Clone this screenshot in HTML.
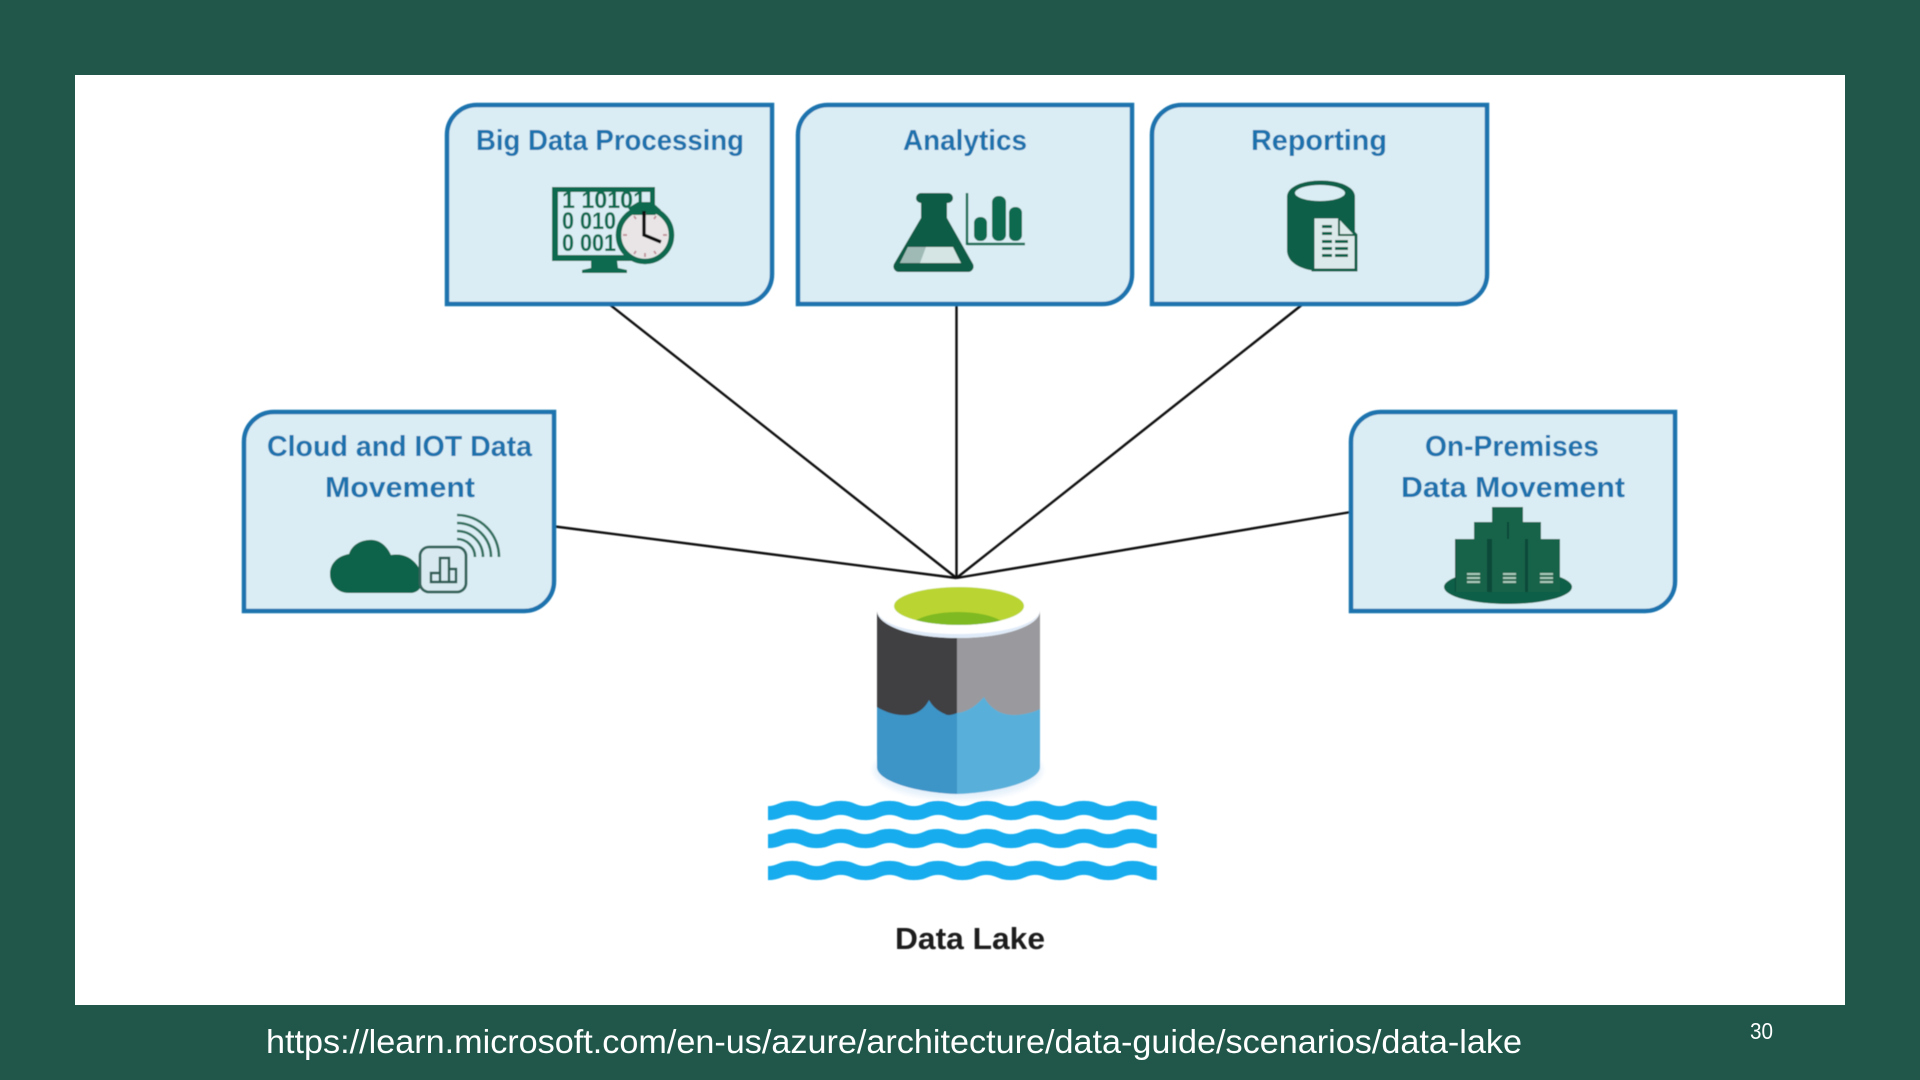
<!DOCTYPE html>
<html lang="en">
<head>
<meta charset="utf-8">
<title>Data Lake</title>
<style>
html,body{margin:0;padding:0;width:1920px;height:1080px;overflow:hidden;background:#20574a}
svg{display:block}
text{font-family:"Liberation Sans",sans-serif}
.t{font-weight:bold;font-size:29px;fill:#1f72ad}
</style>
</head>
<body>
<svg width="1920" height="1080" viewBox="0 0 1920 1080" xmlns="http://www.w3.org/2000/svg">
<defs>
<path id="wave" fill="none" stroke="#14acee" stroke-width="14" d="M0 2.6c12 0 12-5.2 24.3-5.2s12 5.2 24.3 5.2s12-5.2 24.3-5.2s12 5.2 24.3 5.2s12-5.2 24.3-5.2s12 5.2 24.3 5.2s12-5.2 24.3-5.2s12 5.2 24.3 5.2s12-5.2 24.3-5.2s12 5.2 24.3 5.2s12-5.2 24.3-5.2s12 5.2 24.3 5.2s12-5.2 24.3-5.2s12 5.2 24.3 5.2s12-5.2 24.3-5.2s12 5.2 24.3 5.2"/>
<filter id="soft" x="-5%" y="-5%" width="110%" height="110%"><feGaussianBlur stdDeviation="0.5"/></filter>
<filter id="glow" x="-20%" y="-20%" width="140%" height="140%"><feGaussianBlur stdDeviation="3"/></filter>
<clipPath id="greenClip"><ellipse cx="959" cy="606" rx="65" ry="19"/></clipPath>
</defs>

<rect x="0" y="0" width="1920" height="1080" fill="#20574a"/>
<rect x="75" y="75" width="1770" height="930" fill="#fff"/>

<g filter="url(#soft)">
<!-- connectors -->
<g stroke="#111" stroke-width="2.4" fill="none">
<line x1="609" y1="304" x2="956.5" y2="578"/>
<line x1="956.5" y1="304" x2="956.5" y2="578"/>
<line x1="1303" y1="304" x2="956.5" y2="578"/>
<line x1="555" y1="526.5" x2="956.5" y2="578"/>
<line x1="1351" y1="512" x2="956.5" y2="578"/>
</g>

<!-- boxes -->
<g fill="#daedf4" stroke="#1a73ae" stroke-width="4.5">
<path d="M478 105H772V274a30 30 0 0 1-30 30H447V135a30 30 0 0 1 31-30Z"/>
<path d="M829 105H1132V274a30 30 0 0 1-30 30H798V135a30 30 0 0 1 31-30Z"/>
<path d="M1183 105H1487V274a30 30 0 0 1-30 30H1152V135a30 30 0 0 1 31-30Z"/>
<path d="M275 412H554V581a30 30 0 0 1-30 30H244V442a30 30 0 0 1 31-30Z"/>
<path d="M1382 412H1675V581a30 30 0 0 1-30 30H1351V442a30 30 0 0 1 31-30Z"/>
</g>

<!-- box labels -->
<text class="t" x="476" y="150" textLength="268" lengthAdjust="spacingAndGlyphs">Big Data Processing</text>
<text class="t" x="903" y="150" textLength="124" lengthAdjust="spacingAndGlyphs">Analytics</text>
<text class="t" x="1251" y="150" textLength="136" lengthAdjust="spacingAndGlyphs">Reporting</text>
<text class="t" x="267" y="456" textLength="265" lengthAdjust="spacingAndGlyphs">Cloud and IOT Data</text>
<text class="t" x="325" y="497" textLength="150" lengthAdjust="spacingAndGlyphs">Movement</text>
<text class="t" x="1425" y="456" textLength="174" lengthAdjust="spacingAndGlyphs">On-Premises</text>
<text class="t" x="1401" y="497" textLength="224" lengthAdjust="spacingAndGlyphs">Data Movement</text>

<!-- monitor + clock -->
<rect x="552" y="187" width="103" height="74" fill="#0f6b50"/>
<rect x="558" y="192" width="92" height="63" fill="#daedf4"/>
<path d="M591 260h26l1 8 9 2v3h-45v-3l9-2Z" fill="#0f6b50"/>
<g fill="#0f6b50" font-weight="bold" font-size="24">
<text x="562" y="208" textLength="84" lengthAdjust="spacingAndGlyphs">1 10101</text>
<text x="562" y="229" textLength="54" lengthAdjust="spacingAndGlyphs">0 010</text>
<text x="562" y="251" textLength="54" lengthAdjust="spacingAndGlyphs">0 001</text>
</g>
<circle cx="645" cy="235" r="26.5" fill="#e9e5e6" stroke="#0f6b50" stroke-width="5.5"/>
<path d="M628 208l10-6 14 0 9 8-6 5-22 0Z" fill="#0f6b50"/>
<g stroke="#c09098" stroke-width="1.8">
<line x1="645" y1="213" x2="645" y2="217"/><line x1="645" y1="253" x2="645" y2="257"/>
<line x1="623" y1="235" x2="627" y2="235"/><line x1="663" y1="235" x2="667" y2="235"/>
<line x1="634" y1="216" x2="636" y2="219"/><line x1="656" y1="216" x2="654" y2="219"/>
<line x1="634" y1="254" x2="636" y2="251"/><line x1="656" y1="254" x2="654" y2="251"/>
</g>
<path d="M644 211V235L661 242" fill="none" stroke="#111" stroke-width="3.4"/>

<!-- flask -->
<path d="M921 193h27a4.5 4.5 0 0 1 0 10h-1v15l26 46a5.500 5.500 0 0 1-5 8H899a5.500 5.500 0 0 1-5-8l27-46V203a4.500 4.500 0 0 1 0-10Z" fill="#0f5c45"/>
<path d="M908 247H953L961 263H900Z" fill="#d4e5e3"/>
<path d="M908 247H926L920 263H900Z" fill="#9fbab5"/>
<path d="M967 193V245M967 244H1025" stroke="#0f6b50" stroke-width="2.4" fill="none"/>
<g fill="#0f6b50">
<rect x="974" y="217" width="13" height="24" rx="6"/>
<rect x="992" y="196" width="14" height="45" rx="6.5"/>
<rect x="1009" y="207" width="13" height="34" rx="6"/>
</g>

<!-- reporting cylinder + doc -->
<path d="M1287 197c0-22 68-22 68 0V250c0 28-68 28-68 0Z" fill="#0f5f47"/>
<ellipse cx="1320" cy="193" rx="25" ry="8" fill="#daedf4"/>
<path d="M1313 217H1339L1356 235V270H1313Z" fill="#dce9ea" stroke="#0f5f47" stroke-width="3"/>
<path d="M1339 217V235H1356" fill="none" stroke="#0f5f47" stroke-width="2"/>
<g fill="#0f5f47">
<rect x="1322" y="225" width="10" height="3"/><rect x="1322" y="232" width="10" height="3"/>
<rect x="1322" y="240" width="10" height="3"/><rect x="1322" y="247" width="10" height="3"/><rect x="1322" y="254" width="10" height="3"/>
<rect x="1335" y="240" width="13" height="3"/><rect x="1335" y="247" width="13" height="3"/><rect x="1335" y="254" width="13" height="3"/>
</g>

<!-- cloud + sensor + arcs -->
<path d="M349 593c-12 0-19-9-19-19 0-11 8-18 19-20 3-10 14-15 24-14 9 1 15 8 18 15 11-2 20 2 26 10 4 5 5 12 5 18-1 6-5 10-12 10Z" fill="#0e6348"/>
<rect x="420" y="547" width="46" height="45" rx="9" fill="#d8eaf0" stroke="#33635a" stroke-width="2.8"/>
<path d="M431 582V573H440V582ZM440 582V558H449V582ZM449 582V569H456V582Z" fill="none" stroke="#2a5a51" stroke-width="2.4"/>
<g fill="none" stroke="#33705f" stroke-width="2.6">
<path d="M457 515a42 42 0 0 1 42 42"/>
<path d="M457 523a34 34 0 0 1 34 34"/>
<path d="M457 531a26 26 0 0 1 26 26"/>
<path d="M457 539a18 18 0 0 1 18 18"/>
</g>

<!-- servers -->
<ellipse cx="1508" cy="587" rx="64" ry="17" fill="#0f5f47"/>
<rect x="1474" y="522" width="67" height="17" fill="#0b4a37"/>
<rect x="1455" y="539" width="105" height="53" fill="#0b4a37"/>
<g fill="#14634a">
<rect x="1492" y="507" width="31" height="15"/>
<rect x="1474" y="522" width="33" height="17"/>
<rect x="1509" y="522" width="32" height="17"/>
<rect x="1456" y="539" width="31" height="53"/>
<rect x="1492" y="539" width="33" height="53"/>
<rect x="1528" y="539" width="32" height="53"/>
</g>
<g fill="#a9c9bb">
<rect x="1467" y="573" width="13" height="2"/><rect x="1467" y="577" width="13" height="2"/><rect x="1467" y="581" width="13" height="2"/>
<rect x="1503" y="573" width="13" height="2"/><rect x="1503" y="577" width="13" height="2"/><rect x="1503" y="581" width="13" height="2"/>
<rect x="1540" y="573" width="13" height="2"/><rect x="1540" y="577" width="13" height="2"/><rect x="1540" y="581" width="13" height="2"/>
</g>

<!-- data lake cylinder -->
<ellipse cx="958" cy="770" rx="84" ry="29" fill="#e4f0fb" filter="url(#glow)"/>
<path d="M877 611H957V794C920 793 877 782 877 767Z" fill="#3d94c6"/>
<path d="M1040 611H957V794C994 793 1040 782 1040 767Z" fill="#59b0da"/>
<path d="M877 611H957V713C952 715 948 716 945 714C938 711 933 707 929 700C925 708 918 714 908 715C896 716 885 712 877 707Z" fill="#404042"/>
<path d="M1040 611H957V713C966 712 974 708 984 697C990 708 1000 715 1014 715C1024 715 1034 712 1040 709Z" fill="#9a9a9e"/>
<ellipse cx="958.500" cy="611" rx="81.500" ry="27" fill="#fff"/>
<path d="M877 611C880 628 915 638 958 638S1037 628 1040 611C1037 624 1005 634 958 634S880 624 877 611Z" fill="#dfeaf8"/>
<ellipse cx="959" cy="606" rx="65" ry="19" fill="#bad530"/>
<ellipse cx="958" cy="630" rx="50" ry="18" fill="#7fba22" clip-path="url(#greenClip)"/>

<!-- waves -->
<use href="#wave" transform="translate(768 810.5)"/>
<use href="#wave" transform="translate(768 838.5)"/>
<use href="#wave" transform="translate(768 870.5)"/>

<text x="895" y="949" font-size="31" font-weight="bold" fill="#1a1a1a" textLength="150" lengthAdjust="spacingAndGlyphs">Data Lake</text>
</g>

<!-- footer -->
<text x="266" y="1053" font-size="33" fill="#fff" textLength="1256" lengthAdjust="spacingAndGlyphs">https://learn.microsoft.com/en-us/azure/architecture/data-guide/scenarios/data-lake</text>
<text x="1750" y="1039" font-size="23" fill="#fff" textLength="23" lengthAdjust="spacingAndGlyphs">30</text>
</svg>
</body>
</html>
